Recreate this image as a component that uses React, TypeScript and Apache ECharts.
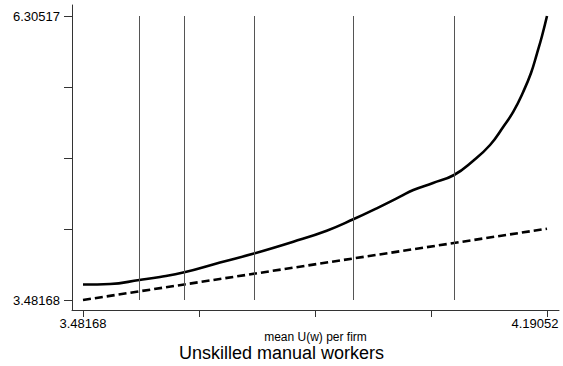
import React, { useEffect, useRef } from "react";
import * as echarts from "echarts";

// Data
const curveX = [3.48168, 3.5229, 3.5677, 3.5993, 3.6364, 3.691, 3.7429, 3.803, 3.854, 3.8946, 3.9304, 3.966, 3.9863, 4.0164, 4.0485, 4.0779, 4.1035, 4.1238, 4.1391, 4.1543, 4.1661, 4.1753, 4.1829, 4.19052];
const curveY = [3.6358, 3.6408, 3.6805, 3.7104, 3.7571, 3.8545, 3.944, 4.0613, 4.1707, 4.2841, 4.3934, 4.5088, 4.5754, 4.645, 4.7245, 4.8667, 5.0228, 5.2047, 5.3539, 5.5527, 5.7386, 5.9345, 6.1065, 6.30517];
const diagX = [3.48168, 4.19052];
const diagY = [3.48168, 4.19052];
const percentileX = [3.5672, 3.636, 3.7429, 3.8941, 4.0485];
const xTickValues = [3.48168, 3.65889, 3.8361, 4.01331, 4.19052];
const xLabelValues = [3.48168, 4.19052];
const yTickValues = [3.48168, 4.18755, 4.89343, 5.5993, 6.30517];
const yLabelValues = [3.48168, 6.30517];
const xName = "mean U(w) per firm";
const titleText = "Unskilled manual workers";

const FONT = "Liberation Sans, Arial, sans-serif";

export default function App() {
  const ref = useRef<HTMLDivElement>(null);
  useEffect(() => {
    if (!ref.current) return;
    const chart = echarts.init(ref.current, undefined, { renderer: "svg" });
    const yLo = yLabelValues[0];
    const yHi = yLabelValues[yLabelValues.length - 1];
    const xLast = xLabelValues[xLabelValues.length - 1];
    chart.setOption({
      animation: false,
      title: {
        text: titleText,
        left: "center",
        top: 344,
        padding: 0,
        textStyle: { fontSize: 18, fontWeight: "normal", color: "#000", fontFamily: FONT },
      },
      graphic: [
        {
          type: "text",
          x: 315.5,
          y: 336.5,
          style: {
            text: xName,
            fontSize: 12,
            fontFamily: FONT,
            fill: "#000",
            align: "center",
            verticalAlign: "middle",
          },
        },
      ],
      grid: { left: 72, top: 5, width: 487, height: 305, containLabel: false, outerBoundsMode: "none" },
      xAxis: {
        type: "value",
        min: 3.46488,
        max: 4.20885,
        axisLine: { show: true, onZero: false, lineStyle: { color: "#333", width: 1 } },
        axisTick: { show: true, length: 7, customValues: xTickValues, lineStyle: { color: "#333" } },
        axisLabel: {
          show: true,
          customValues: xLabelValues,
          margin: 7,
          fontSize: 13,
          color: "#000",
          fontFamily: FONT,
          hideOverlap: false,
          formatter: (v: number) =>
            Math.abs(v - xLast) < 1e-6 ? "{r|" + v.toFixed(5) + "}" : v.toFixed(5),
          rich: {
            r: { fontSize: 13, color: "#000", fontFamily: FONT, padding: [0, 24, 0, 0] },
          },
        },
        splitLine: { show: false },
      },
      yAxis: {
        type: "value",
        min: 3.38226,
        max: 6.41457,
        axisLine: { show: true, onZero: false, lineStyle: { color: "#333", width: 1 } },
        axisTick: { show: true, length: 8, customValues: yTickValues, lineStyle: { color: "#333" } },
        axisLabel: {
          show: true,
          customValues: yLabelValues,
          margin: 12,
          fontSize: 13,
          color: "#000",
          fontFamily: FONT,
          formatter: (v: number) => v.toFixed(5),
        },
        splitLine: { show: false },
      },
      series: [
        {
          type: "line",
          data: curveX.map((x, i) => [x, curveY[i]]),
          smooth: 0.45,
          symbol: "none",
          lineStyle: { color: "#000", width: 2.6 },
          z: 3,
          markLine: {
            silent: true,
            symbol: "none",
            label: { show: false },
            lineStyle: { color: "#555", width: 1, type: "solid" },
            data: percentileX.map((x) => [{ coord: [x, yLo] }, { coord: [x, yHi] }]),
          },
        },
        {
          type: "line",
          data: diagX.map((x, i) => [x, diagY[i]]),
          symbol: "none",
          lineStyle: { color: "#000", width: 2.6, type: [8, 4] },
          z: 3,
        },
      ],
    });
    return () => chart.dispose();
  }, []);
  return <div ref={ref} style={{ position: "absolute", left: 0, top: 0, width: 563, height: 366 }} />;
}
